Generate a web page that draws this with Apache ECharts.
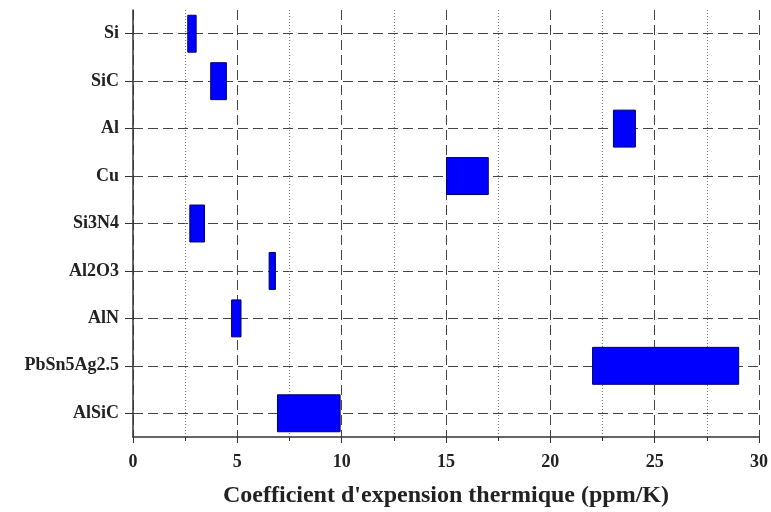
<!doctype html>
<html>
<head>
  <meta charset="utf-8">
  <title>Coefficient d'expansion</title>
  <script src="https://cdn.jsdelivr.net/npm/echarts@6/dist/echarts.min.js"></script>
  <style>
    html, body { margin: 0; padding: 0; background: #fff; }
    #main { width: 771px; height: 512px; }
  </style>
</head>
<body>
  <div id="main"></div>
  <script>
    // matériaux, de haut en bas
    var materials = ['Si', 'SiC', 'Al', 'Cu', 'Si3N4', 'Al2O3', 'AlN', 'PbSn5Ag2.5', 'AlSiC'];
    // bornes min / max du CTE (ppm/K)
    var cteMin = [2.6, 3.7, 23, 15, 2.7, 6.5, 4.7, 22, 6.9];
    var cteMax = [3.05, 4.5, 24.1, 17.05, 3.45, 6.85, 5.2, 29.05, 9.95];

    var spans = cteMax.map(function (v, i) { return +(v - cteMin[i]).toFixed(2); });
    var font = '"Liberation Serif", "DejaVu Serif", serif';

    var chart = echarts.init(document.getElementById('main'));
    chart.setOption({
      animation: false,
      grid: { left: 133, right: 12, top: 10, bottom: 75, containLabel: false, outerBoundsMode: 'none' },
      xAxis: {
        type: 'value',
        min: 0,
        max: 30,
        interval: 5,
        name: "Coefficient d'expension thermique (ppm/K)",
        nameLocation: 'middle',
        nameGap: 47,
        nameTextStyle: { fontFamily: font, fontWeight: 'bold', fontSize: 24, color: '#222' },
        axisLine: { show: true, lineStyle: { color: '#333', width: 1.5 } },
        axisTick: { show: true, length: 6, lineStyle: { color: '#333' } },
        minorTick: { show: true, splitNumber: 2, length: 4, lineStyle: { color: '#333' } },
        axisLabel: { fontFamily: font, fontWeight: 'bold', fontSize: 18, color: '#222', margin: 16 },
        splitLine: { show: true, lineStyle: { color: '#444', type: [10, 5], width: 1 } },
        minorSplitLine: { show: true, lineStyle: { color: '#777', type: [1, 2], width: 1 } }
      },
      yAxis: {
        type: 'category',
        inverse: true,
        data: materials,
        axisLine: { show: true, lineStyle: { color: '#333', width: 1.5 } },
        axisTick: { show: true, alignWithLabel: true, length: 8, lineStyle: { color: '#333' } },
        axisLabel: { fontFamily: font, fontWeight: 'bold', fontSize: 18, color: '#222', margin: 14 },
        splitLine: { show: true, alignWithLabel: true, lineStyle: { color: '#444', type: [10, 5], width: 1 } }
      },
      series: [
        {
          type: 'bar',
          stack: 'cte',
          silent: true,
          itemStyle: { color: 'transparent' },
          data: cteMin
        },
        {
          type: 'bar',
          stack: 'cte',
          barWidth: '80%',
          itemStyle: { color: '#0000ff', borderColor: '#000066', borderWidth: 1 },
          data: spans
        }
      ]
    });
  </script>
</body>
</html>
